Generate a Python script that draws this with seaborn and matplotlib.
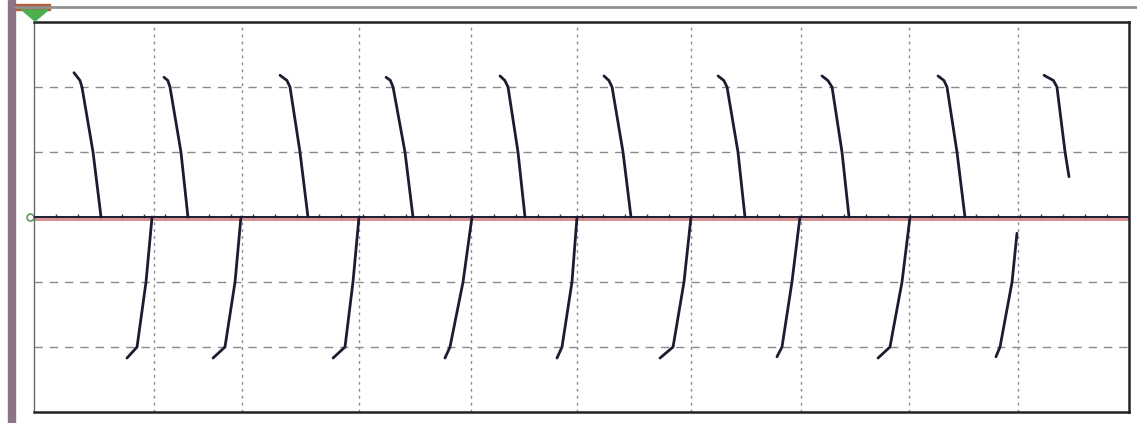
import matplotlib
matplotlib.use("Agg")
import numpy as np
import pandas as pd
import matplotlib.pyplot as plt
import seaborn as sns
from matplotlib.patches import Rectangle, Polygon
from matplotlib.lines import Line2D
from matplotlib.ticker import MultipleLocator, NullFormatter

# Время в делениях экрана, амплитуда в вертикальных делениях
# Положительные импульсы: вершина -> 2.1 -> уровень 2 -> уровень 1 -> конец
pos_top_v = [2.22, 2.15, 2.18, 2.15, 2.17, 2.17, 2.17, 2.17, 2.17, 2.18]
pos_t_top = [0.365, 1.187, 2.247, 3.215, 4.256, 5.205, 6.247, 7.196, 8.256, 9.224]
pos_t_21 = [0.420, 1.222, 2.310, 3.255, 4.300, 5.250, 6.300, 7.250, 8.310, 9.310]
pos_t_2 = [0.438, 1.242, 2.338, 3.279, 4.329, 5.279, 6.329, 7.288, 8.338, 9.342]
pos_t_1 = [0.539, 1.342, 2.429, 3.388, 4.420, 5.379, 6.429, 7.379, 8.429, 9.416]
pos_t_end = [0.612, 1.406, 2.502, 3.461, 4.484, 5.452, 6.493, 7.443, 8.502, 9.452]
pos_end_v = [0, 0, 0, 0, 0, 0, 0, 0, 0, 0.62]

# Отрицательные импульсы: дно -> уровень -2 -> уровень -1 -> конец
neg_bot_v = [-2.17, -2.17, -2.17, -2.17, -2.17, -2.17, -2.15, -2.17, -2.15]
neg_t_bot = [0.849, 1.635, 2.731, 3.753, 4.776, 5.717, 6.785, 7.708, 8.785]
neg_t_m2 = [0.941, 1.744, 2.840, 3.799, 4.822, 5.836, 6.831, 7.817, 8.822]
neg_t_m1 = [1.023, 1.836, 2.913, 3.918, 4.913, 5.936, 6.922, 7.927, 8.932]
neg_t_end = [1.078, 1.890, 2.968, 4.000, 4.959, 6.000, 6.995, 8.000, 8.977]
neg_end_v = [0, 0, 0, 0, 0, 0, 0, 0, -0.25]

# Вертикальные линии сетки (как на экране осциллографа)
grid_x = [1.096, 1.9, 2.968, 3.99, 4.959, 6.0, 7.005, 7.99, 8.986]
grid_y = [-2, -1, 1, 2]

# Сборка длинной таблицы для seaborn
rows = []
for i in range(len(pos_t_top)):
    pts = [(pos_t_top[i], pos_top_v[i]), (pos_t_21[i], 2.1), (pos_t_2[i], 2.0),
           (pos_t_1[i], 1.0), (pos_t_end[i], pos_end_v[i])]
    for t, v in pts:
        rows.append({"t": t, "v": v, "pulse": f"p{i}"})
for i in range(len(neg_t_bot)):
    pts = [(neg_t_bot[i], neg_bot_v[i]), (neg_t_m2[i], -2.0), (neg_t_m1[i], -1.0), (neg_t_end[i], neg_end_v[i])]
    for t, v in pts:
        rows.append({"t": t, "v": v, "pulse": f"n{i}"})
df = pd.DataFrame(rows)

sns.set_style("white")
W, H = 1137, 423
fig = plt.figure(figsize=(W / 100, H / 100), dpi=100)
ax = fig.add_axes([34 / W, (H - 412) / H, (1129 - 34) / W, (412 - 22) / H])

trace = "#1c1c30"
ax.axhline(-0.03, color="#d88a8a", lw=2.0, zorder=2)
ax.axhline(0, color=trace, lw=1.4, zorder=3)
sns.lineplot(data=df, x="t", y="v", units="pulse", estimator=None, sort=False,
             color=trace, lw=2.0, ax=ax, zorder=4)

ax.set_xlim(0, 10)
ax.set_ylim(-3, 3)
ax.set_xticks(grid_x)
ax.set_yticks(grid_y)
ax.xaxis.grid(True, color="#8a8a8a", lw=1, linestyle=(0, (2, 3)))
ax.yaxis.grid(True, color="#8a8a8a", lw=1, linestyle=(0, (6, 5)))
ax.set_xlabel("")
ax.set_ylabel("")
ax.tick_params(axis="x", length=0, labelbottom=False)
ax.yaxis.set_minor_locator(MultipleLocator(0.2))
ax.tick_params(axis="y", which="both", direction="in", length=3, color="#b09aa8",
               labelleft=False)

for side in ["top", "bottom", "right"]:
    ax.spines[side].set_color("#222222")
    ax.spines[side].set_linewidth(1.8)
ax.spines["left"].set_color("#6a6a6a")
ax.spines["left"].set_linewidth(1.0)

# Центральная ось с мелкими делениями
sec = ax.secondary_xaxis(0.5)
for sp in sec.spines.values():
    sp.set_visible(False)
sec.set_xticks(np.arange(0.2, 10, 0.2))
sec.xaxis.set_major_formatter(NullFormatter())
sec.tick_params(axis="x", which="major", direction="inout", length=5, width=1.0,
                color="#3a3a4a", labeltop=False, labelbottom=False)

# Маркер нуля слева
ax.plot([-0.04], [0], marker="o", mfc="none", mec="#5a9a5a", ms=5, mew=1.2, clip_on=False)

# Рамка окна
fig.add_artist(Rectangle((8 / W, 0), 7 / W, 1, transform=fig.transFigure, color="#8c7485"))
fig.add_artist(Line2D([15 / W, 1], [1 - 7 / H, 1 - 7 / H], transform=fig.transFigure,
                      color="#909090", lw=2))
fig.add_artist(Rectangle((15 / W, 1 - 10 / H), 35 / W, 6 / H, transform=fig.transFigure,
                         color="#b0603a"))
fig.add_artist(Polygon([(22 / W, 1 - 10 / H), (48 / W, 1 - 10 / H), (35 / W, 1 - 21 / H)],
                       closed=True, transform=fig.transFigure, color="#4caf50"))

fig.savefig("out.png", dpi=100)
